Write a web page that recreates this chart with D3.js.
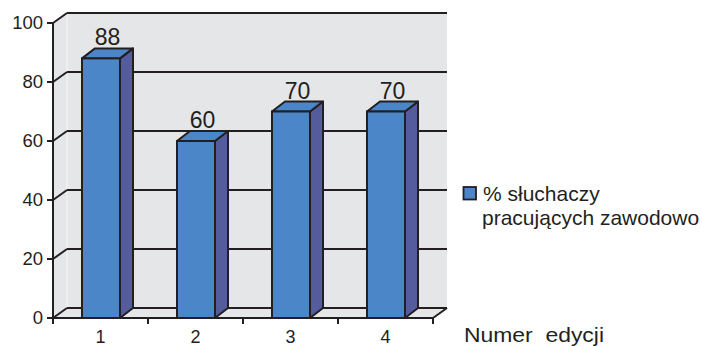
<!DOCTYPE html>
<html><head><meta charset="utf-8">
<script src="https://cdn.jsdelivr.net/npm/d3@7"></script>
<style>body{margin:0;background:#fff}svg{display:block}text{font-family:"Liberation Sans",Arial,Helvetica,sans-serif;fill:#231F20}</style>
</head><body>
<script>
const categories = ["1","2","3","4"];
const values = [88,60,70,70];
const yTicks = [0,20,40,60,80,100];
const seriesName = ["% słuchaczy","pracujących zawodowo"];
const xTitle = "Numer\u00a0 edycji";

const W=702,H=347;
const svg=d3.select("body").append("svg").attr("width",W).attr("height",H);
const ink="#231F20";
const DX=14, DY=-10;     // wall depth
const BDX=13, BDY=-10;   // bar depth
const x=d3.scaleBand().domain(categories).range([53,433]);
const y=d3.scaleLinear().domain([0,100]).range([318,23]);
const x0=53,x1=433;

// walls
const wall="#E5E6E8";
svg.append("polygon").attr("points",[[x0,y(100)],[x0+DX,y(100)+DY],[x0+DX,y(0)+DY],[x0,y(0)]].join(" ")).attr("fill",wall);
svg.append("rect").attr("x",x0+DX).attr("y",y(100)+DY).attr("width",x1-x0).attr("height",y(0)-y(100)).attr("fill",wall);
svg.append("polygon").attr("points",[[x0,y(0)],[x1,y(0)],[x1+DX,y(0)+DY],[x0+DX,y(0)+DY]].join(" ")).attr("fill",wall);
svg.append("line").attr("x1",x0+DX).attr("x2",x0+DX).attr("y1",y(100)+DY).attr("y2",y(0)+DY).attr("stroke","#f4f4f5").attr("stroke-width",1.2);

// gridlines
yTicks.forEach(t=>{
  svg.append("line").attr("x1",x0+DX).attr("x2",x1+DX).attr("y1",y(t)+DY).attr("y2",y(t)+DY).attr("stroke",ink).attr("stroke-width",2);
  svg.append("line").attr("x1",x0).attr("x2",x0+DX).attr("y1",y(t)).attr("y2",y(t)+DY).attr("stroke",ink).attr("stroke-width",2);
});
// floor right edge
svg.append("line").attr("x1",x1).attr("y1",y(0)).attr("x2",x1+DX).attr("y2",y(0)+DY).attr("stroke",ink).attr("stroke-width",2);

// bars
const bw=38;
const g=svg.append("g");
categories.forEach((c,i)=>{
  const cx=x(c)+x.bandwidth()/2+0.5;
  const l=cx-bw/2, r=cx+bw/2, top=y(values[i]), bot=y(0);
  g.append("polygon").attr("points",[[r,top],[r+BDX,top+BDY],[r+BDX,bot+BDY],[r,bot]].join(" "))
    .attr("fill","#555C9E").attr("stroke",ink).attr("stroke-width",2).attr("stroke-linejoin","round");
  g.append("polygon").attr("points",[[l,top],[l+BDX,top+BDY],[r+BDX,top+BDY],[r,top]].join(" "))
    .attr("fill","#4A86C8").attr("stroke",ink).attr("stroke-width",2).attr("stroke-linejoin","round");
  g.append("rect").attr("x",l).attr("y",top).attr("width",bw).attr("height",bot-top)
    .attr("fill","#4A86C8").attr("stroke",ink).attr("stroke-width",2);
  svg.append("text").attr("x",cx+BDX/2).attr("y",top+BDY-3).attr("text-anchor","middle")
    .attr("font-size",23).text(values[i]);
});

// axes
svg.append("line").attr("x1",x0).attr("x2",x0).attr("y1",y(100)).attr("y2",y(0)).attr("stroke",ink).attr("stroke-width",2);
svg.append("line").attr("x1",x0-1).attr("x2",x1).attr("y1",y(0)).attr("y2",y(0)).attr("stroke",ink).attr("stroke-width",2);
yTicks.forEach(t=>{
  svg.append("line").attr("x1",x0-6).attr("x2",x0).attr("y1",y(t)).attr("y2",y(t)).attr("stroke",ink).attr("stroke-width",2);
  svg.append("text").attr("x",43).attr("y",y(t)).attr("dy","0.35em").attr("text-anchor","end").attr("font-size",18.5).text(t);
});
const bounds=categories.map(c=>x(c)).concat([x1]);
bounds.forEach(b=>{
  svg.append("line").attr("x1",b).attr("x2",b).attr("y1",y(0)).attr("y2",y(0)+6).attr("stroke",ink).attr("stroke-width",2);
});
categories.forEach(c=>{
  svg.append("text").attr("x",x(c)+x.bandwidth()/2).attr("y",343).attr("text-anchor","middle").attr("font-size",18).text(c);
});
svg.append("text").attr("x",464).attr("y",342).attr("font-size",19.5).attr("textLength",140).attr("lengthAdjust","spacingAndGlyphs").text(xTitle);

// legend
svg.append("rect").attr("x",463.5).attr("y",187).attr("width",12.5).attr("height",12.5).attr("fill","#4A86C8").attr("stroke",ink).attr("stroke-width",1.8);
svg.append("text").attr("x",483).attr("y",201).attr("font-size",21).text(seriesName[0]);
svg.append("text").attr("x",482).attr("y",225).attr("font-size",21).text(seriesName[1]);
</script>
</body></html>
